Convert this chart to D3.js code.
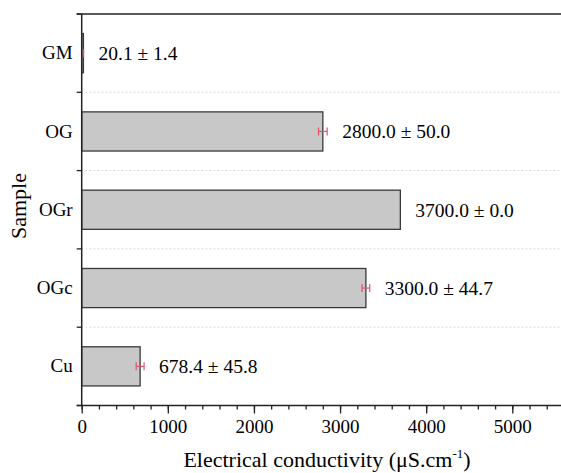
<!DOCTYPE html>
<html><head><meta charset="utf-8">
<script src="https://d3js.org/d3.v7.min.js"></script>
<style>body{margin:0;background:#fff}svg{display:block}</style>
</head><body>
<svg id="c" width="561" height="473"></svg>
<script>
const categories = ["GM","OG","OGr","OGc","Cu"];
const values = [20.1, 2800.0, 3700.0, 3300.0, 678.4];
const errors = [1.4, 50.0, 0.0, 44.7, 45.8];
const labels = ["20.1 \u00b1 1.4","2800.0 \u00b1 50.0","3700.0 \u00b1 0.0","3300.0 \u00b1 44.7","678.4 \u00b1 45.8"];
const xTicks = [0,1000,2000,3000,4000,5000];

(function(){
const svg = d3.select("#c");
const font = "'Liberation Serif','Times New Roman',serif";
const pLeft = 81.7, pTop = 14, pBottom = 405.5;
const x = d3.scaleLinear().domain([0,5600]).range([pLeft, pLeft + 5600*0.08612]);
const y = d3.scaleBand().domain(categories).range([pTop, pBottom]).paddingInner(0).paddingOuter(0);
const bh = y.bandwidth()*0.5;

// grid lines at band boundaries
const bounds = categories.slice(1).map(c => y(c));
svg.append("g").selectAll("line").data(bounds).join("line")
  .attr("x1", pLeft).attr("x2", 561).attr("y1", d=>d).attr("y2", d=>d)
  .attr("stroke","#d0d0d0").attr("stroke-width",1).attr("stroke-dasharray","1.5,2.5");

// bars
svg.append("g").selectAll("rect").data(categories).join("rect")
  .attr("x", x(0)).attr("y", d => y(d) + (y.bandwidth()-bh)/2)
  .attr("width", (d,i) => x(values[i]) - x(0)).attr("height", bh)
  .attr("fill","#c8c8c8").attr("stroke","#3a3a3a").attr("stroke-width",1.3);

// error bars
const eg = svg.append("g").attr("stroke","#e4506e").attr("stroke-width",1.2);
categories.forEach((c,i) => {
  if (errors[i] <= 0) return;
  const cy = y(c) + y.bandwidth()/2;
  const x0 = x(values[i]-errors[i]), x1 = x(values[i]+errors[i]);
  eg.append("line").attr("x1",x0).attr("x2",x1).attr("y1",cy).attr("y2",cy);
  eg.append("line").attr("x1",x0).attr("x2",x0).attr("y1",cy-4).attr("y2",cy+4);
  eg.append("line").attr("x1",x1).attr("x2",x1).attr("y1",cy-4).attr("y2",cy+4);
});

// value labels
svg.append("g").selectAll("text").data(categories).join("text")
  .attr("x", (d,i) => x(values[i]+errors[i]) + 15)
  .attr("y", d => y(d) + y.bandwidth()/2)
  .attr("dy","0.35em")
  .attr("font-family",font).attr("font-size","19.5px").attr("fill","#000")
  .text((d,i) => labels[i]);

// x axis
const xAxis = svg.append("g").attr("transform",`translate(0,${pBottom})`);
xAxis.call(d3.axisBottom(x).tickValues(d3.range(0,5601,200)).tickSize(4).tickFormat(""))
  .call(g => g.select(".domain").remove());
xAxis.append("g").call(d3.axisBottom(x).tickValues(xTicks).tickSize(8).tickPadding(6).tickFormat(d3.format("d")))
  .call(g => g.select(".domain").remove())
  .call(g => g.selectAll("text").attr("font-family",font).attr("font-size","19px").attr("fill","#000"));
xAxis.selectAll("line").attr("stroke","#222").attr("stroke-width",1.3);
svg.append("line").attr("x1",pLeft-5).attr("x2",561).attr("y1",pBottom).attr("y2",pBottom)
  .attr("stroke","#222").attr("stroke-width",1.5);

// y axis
const yAxis = svg.append("g").attr("transform",`translate(${pLeft},0)`);
yAxis.call(d3.axisLeft(y).tickSize(0).tickPadding(9))
  .call(g => g.select(".domain").remove())
  .call(g => g.selectAll("text").attr("font-family",font).attr("font-size","19px").attr("fill","#000"));
const ybounds = [pTop].concat(bounds).concat([pBottom]);
svg.append("g").selectAll("line").data(ybounds).join("line")
  .attr("x1",pLeft-5).attr("x2",pLeft).attr("y1",d=>d).attr("y2",d=>d)
  .attr("stroke","#222").attr("stroke-width",1.3);
svg.append("line").attr("x1",pLeft).attr("x2",pLeft).attr("y1",pTop).attr("y2",pBottom)
  .attr("stroke","#222").attr("stroke-width",1.5);
svg.append("line").attr("x1",pLeft-5).attr("x2",561).attr("y1",pTop).attr("y2",pTop)
  .attr("stroke","#222").attr("stroke-width",1.5);

// titles
const xt = svg.append("text").attr("x", 327).attr("y", 467).attr("text-anchor","middle")
  .attr("font-family",font).attr("font-size","22px").attr("fill","#000");
xt.append("tspan").text("Electrical conductivity (\u03bcS.cm");
xt.append("tspan").attr("font-size","13px").attr("dy","-9").text("-1");
xt.append("tspan").attr("dy","9").text(")");

svg.append("text").attr("transform","translate(26,206) rotate(-90)").attr("text-anchor","middle")
  .attr("font-family",font).attr("font-size","22px").attr("fill","#000").text("Sample");
})();
</script>
</body></html>
